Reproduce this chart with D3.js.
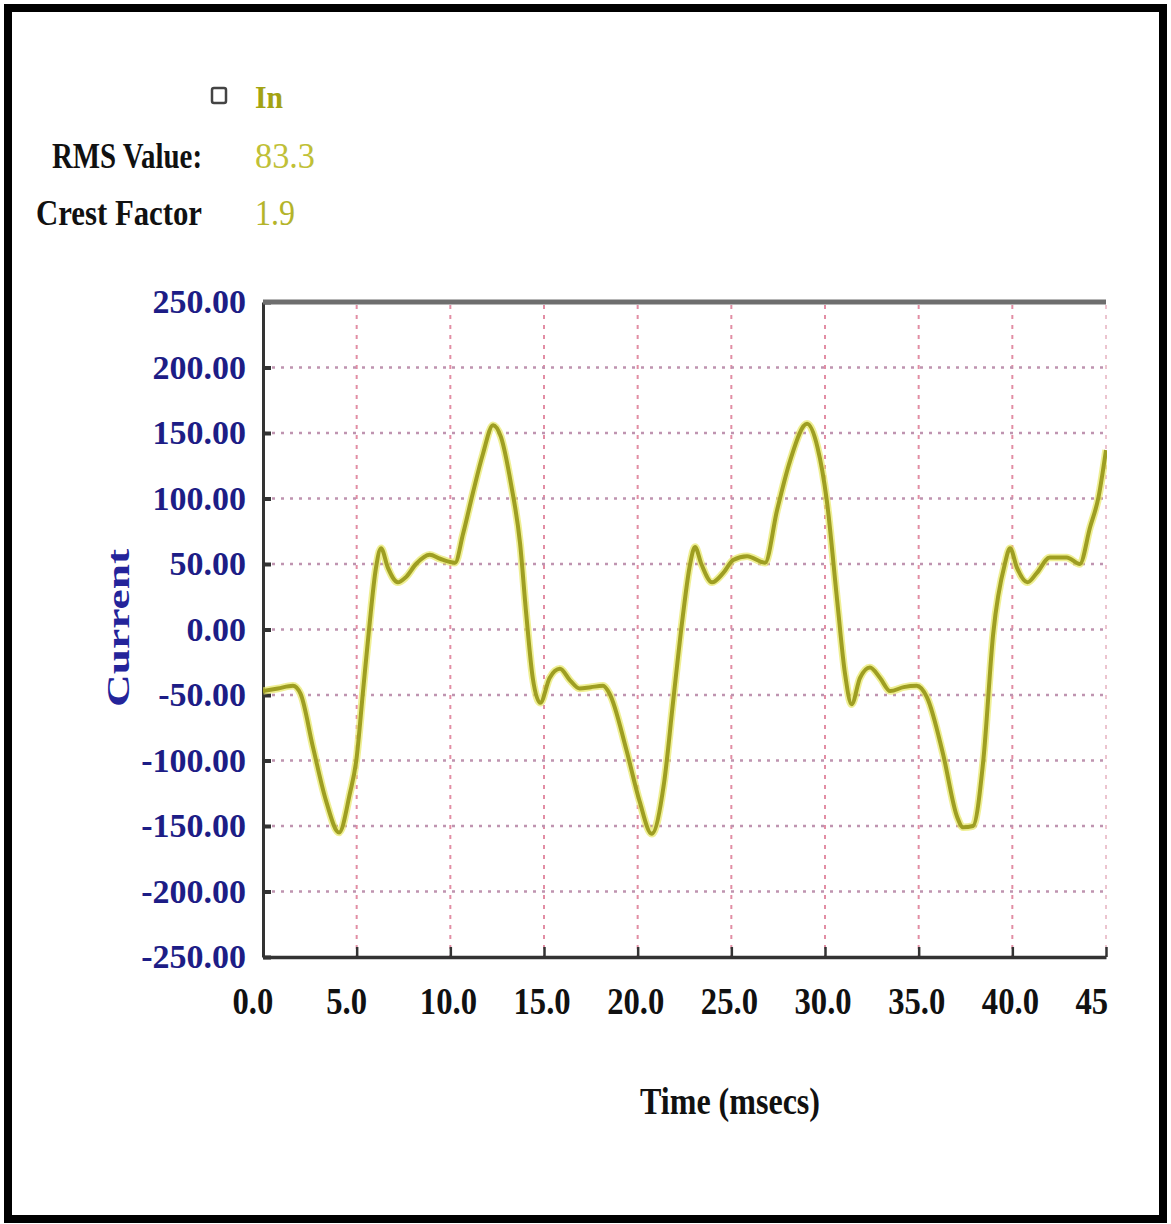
<!DOCTYPE html>
<html>
<head>
<meta charset="utf-8">
<script src="https://cdn.jsdelivr.net/npm/d3@7"></script>
<style>
  html, body { margin: 0; padding: 0; background: #ffffff; }
  svg { display: block; }
</style>
</head>
<body>
<svg id="chart" width="1171" height="1224"></svg>
<script>
// Neutral current waveform, time in milliseconds
const timeMs = [
  0.0, 0.8, 1.6, 2.0, 2.67, 3.37, 4.06, 4.64, 4.98, 5.34, 5.66, 6.03, 6.3, 6.67,
  7.2, 7.63, 8.17, 8.9, 9.45, 10.25, 10.68, 11.2, 11.74, 12.28, 12.7, 13.24, 13.72,
  14.05, 14.4, 14.8, 15.3, 15.85, 16.4, 16.9, 17.5, 18.15, 18.5, 19.4, 20.1, 20.75,
  21.4, 21.9, 22.4, 22.8, 23.06, 23.4, 23.97, 24.56, 25.1, 25.84, 26.8, 27.44, 28.14,
  29.04, 29.6, 30.1, 30.65, 31.07, 31.42, 31.87, 32.4, 32.94, 33.48, 34.2, 34.9,
  35.45, 36.3, 37.05, 37.37, 37.9, 38.45, 38.98, 39.6, 39.88, 40.25, 40.8, 41.3,
  42.0, 42.9, 43.6, 44.15, 44.6, 45.0
];
const currentA = [
  -47, -45, -43, -49, -90, -131, -155, -125, -100, -47, 0, 47, 62, 47,
  36, 40, 50, 57, 54, 51, 73, 104, 134, 156, 147, 111, 66,
  12, -37, -56, -37, -30, -39, -45, -44, -43, -49, -92, -131, -156,
  -118, -54, 9, 50, 63, 50, 36, 43, 53, 56, 51, 91, 129,
  157, 139, 98, 22, -34, -57, -37, -29, -37, -47, -44, -43,
  -52, -95, -143, -151, -150, -100, -3, 50, 62, 47, 36, 43,
  55, 55, 50, 78, 101, 137
];

const xTicks = [0, 5, 10, 15, 20, 25, 30, 35, 40, 45];
const yTicks = [-250, -200, -150, -100, -50, 0, 50, 100, 150, 200, 250];

const seriesName = "In";
const statLabels = ["RMS Value:", "Crest Factor"];
const statValues = ["83.3", "1.9"];

const svg = d3.select("#chart");
const serif = "'Liberation Serif', 'DejaVu Serif', serif";

// Outer frame
svg.append("rect")
  .attr("x", 8).attr("y", 8).attr("width", 1155).attr("height", 1211)
  .attr("fill", "none").attr("stroke", "#000").attr("stroke-width", 8);

const plot = { left: 263, right: 1106, top: 302, bottom: 957 };
const x = d3.scaleLinear().domain([0, 45]).range([plot.left, plot.right]);
const y = d3.scaleLinear().domain([-250, 250]).range([plot.bottom, plot.top]);

// Legend and summary values
svg.append("rect")
  .attr("x", 212).attr("y", 88).attr("width", 14).attr("height", 15).attr("rx", 2)
  .attr("fill", "#fff").attr("stroke", "#444").attr("stroke-width", 2.5);
svg.append("text")
  .attr("x", 255).attr("y", 108)
  .attr("font-family", serif).attr("font-weight", "bold").attr("font-size", 32)
  .attr("fill", "#a3a312")
  .attr("textLength", 28).attr("lengthAdjust", "spacingAndGlyphs")
  .text(seriesName);

const statRows = [
  { label: statLabels[0], value: statValues[0], y: 168, lx: 52, lw: 150, vw: 60, vc: "#c0c036" },
  { label: statLabels[1], value: statValues[1], y: 225, lx: 36, lw: 166, vw: 40, vc: "#b4b42a" }
];
statRows.forEach(r => {
  svg.append("text")
    .attr("x", r.lx).attr("y", r.y)
    .attr("font-family", serif).attr("font-weight", "bold").attr("font-size", 35)
    .attr("fill", "#111")
    .attr("textLength", r.lw).attr("lengthAdjust", "spacingAndGlyphs")
    .text(r.label);
  svg.append("text")
    .attr("x", 255).attr("y", r.y)
    .attr("font-family", serif).attr("font-size", 35)
    .attr("fill", r.vc)
    .attr("textLength", r.vw).attr("lengthAdjust", "spacingAndGlyphs")
    .text(r.value);
});

// Grid
const grid = svg.append("g");
grid.selectAll("line.v")
  .data(xTicks.filter(d => d > 0))
  .join("line")
  .attr("x1", d => x(d)).attr("x2", d => x(d))
  .attr("y1", plot.top + 3).attr("y2", plot.bottom)
  .attr("stroke", d => d === 45 ? "#ecc4cf" : "#e28ea4")
  .attr("stroke-width", 2)
  .attr("stroke-dasharray", "4,6");
grid.selectAll("line.h")
  .data(yTicks.filter(d => d > -250 && d < 250))
  .join("line")
  .attr("x1", plot.left).attr("x2", plot.right)
  .attr("y1", d => y(d)).attr("y2", d => y(d))
  .attr("stroke", "#bf94b0")
  .attr("stroke-width", 2.5)
  .attr("stroke-dasharray", "3,6");

// Y axis
const yAxis = svg.append("g")
  .attr("transform", `translate(${plot.left},0)`)
  .call(d3.axisLeft(y).tickValues(yTicks).tickSizeInner(-8).tickSizeOuter(0).tickPadding(17)
    .tickFormat(d => d.toFixed(2)));
yAxis.select(".domain").attr("stroke", "#333").attr("stroke-width", 3);
yAxis.selectAll(".tick line").attr("stroke", "#333").attr("stroke-width", 4);
yAxis.selectAll(".tick text")
  .attr("font-family", serif).attr("font-weight", "bold").attr("font-size", 34)
  .attr("fill", "#1d1d86");

// X axis; labels stop at the right edge of the plot
svg.append("clipPath").attr("id", "xlabel-clip")
  .append("rect").attr("x", 200).attr("y", -30).attr("width", 1108 - 200).attr("height", 130);
const xAxis = svg.append("g")
  .attr("transform", `translate(0,${plot.bottom})`)
  .attr("clip-path", "url(#xlabel-clip)")
  .call(d3.axisBottom(x).tickValues(xTicks).tickSizeInner(-10).tickSizeOuter(0).tickPadding(30)
    .tickFormat(d => d.toFixed(1)));
xAxis.select(".domain").attr("stroke", "#333").attr("stroke-width", 3.5);
xAxis.selectAll(".tick line").attr("stroke", "#333").attr("stroke-width", 2.5);
xAxis.selectAll(".tick text")
  .attr("font-family", serif).attr("font-weight", "bold").attr("font-size", 38)
  .attr("fill", "#111")
  .attr("text-anchor", "start")
  .attr("transform", "translate(-31,0) scale(0.86,1)");

// Top border of the plot
svg.append("line")
  .attr("x1", plot.left).attr("x2", plot.right)
  .attr("y1", plot.top).attr("y2", plot.top)
  .attr("stroke", "#6e6e6e").attr("stroke-width", 5);

// Axis titles
svg.append("text")
  .attr("transform", "translate(129,628) rotate(-90)")
  .attr("text-anchor", "middle")
  .attr("font-family", serif).attr("font-weight", "bold").attr("font-size", 32)
  .attr("fill", "#24249a")
  .attr("textLength", 158).attr("lengthAdjust", "spacingAndGlyphs")
  .text("Current");
svg.append("text")
  .attr("x", 640).attr("y", 1114)
  .attr("font-family", serif).attr("font-weight", "bold").attr("font-size", 37)
  .attr("fill", "#111")
  .attr("textLength", 180).attr("lengthAdjust", "spacingAndGlyphs")
  .text("Time (msecs)");

// Waveform
svg.append("clipPath").attr("id", "plot-clip")
  .append("rect").attr("x", plot.left).attr("y", plot.top)
  .attr("width", plot.right - plot.left + 1).attr("height", plot.bottom - plot.top);

const points = timeMs.map((t, i) => [t, currentA[i]]);
const line = d3.line().x(d => x(d[0])).y(d => y(d[1])).curve(d3.curveMonotoneX);
const wave = svg.append("g").attr("clip-path", "url(#plot-clip)");
wave.append("path").datum(points)
  .attr("d", line).attr("fill", "none")
  .attr("stroke", "#e6e65a").attr("stroke-opacity", 0.65)
  .attr("stroke-width", 7.5).attr("stroke-linejoin", "round");
wave.append("path").datum(points)
  .attr("d", line).attr("fill", "none")
  .attr("stroke", "#9e9e22")
  .attr("stroke-width", 4).attr("stroke-linejoin", "round");
</script>
</body>
</html>
